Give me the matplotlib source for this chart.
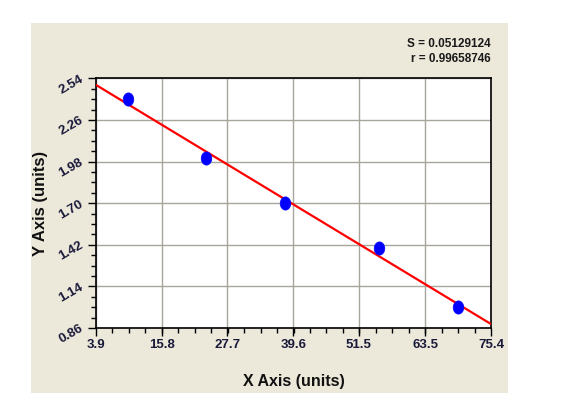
import numpy as np
import matplotlib
matplotlib.use("Agg")
import matplotlib.pyplot as plt
from matplotlib.patches import Rectangle
from matplotlib.path import Path

# values
x_pts = [9.71, 23.81, 38.2, 55.13, 69.36]
y_pts = [2.399, 2.002, 1.699, 1.398, 1.003]
x_ticks = [3.9, 15.8, 27.7, 39.6, 51.5, 63.5, 75.4]
y_ticks = [0.86, 1.14, 1.42, 1.70, 1.98, 2.26, 2.54]
x_labels = ["3.9", "15.8", "27.7", "39.6", "51.5", "63.5", "75.4"]
y_labels = ["0.86", "1.14", "1.42", "1.70", "1.98", "2.26", "2.54"]
stats_text = ["S = 0.05129124", "r = 0.99658746"]

plt.rcParams['font.family'] = ['Liberation Sans', 'DejaVu Sans']

W, H = 584, 394
fig = plt.figure(figsize=(W / 100, H / 100), dpi=100)
fig.patch.set_facecolor("white")

# beige panel behind the chart
fig.patches.append(Rectangle((31 / W, 1 - 393 / H), (508 - 31) / W, (393 - 23) / H,
                             transform=fig.transFigure, facecolor="#ece8da",
                             edgecolor="none", zorder=-5))

ax = fig.add_axes([96 / W, 1 - 328 / H, (491 - 96) / W, (328 - 78.3) / H])
ax.set_facecolor("white")

ax.set_xlim(x_ticks[0], x_ticks[-1])
ax.set_ylim(y_ticks[0], y_ticks[-1])

# minor ticks: 3 between every pair of major ticks
ax.set_xticks(x_ticks)
ax.set_xticks(np.linspace(x_ticks[0], x_ticks[-1], 25), minor=True)
ax.set_yticks(y_ticks)
ax.set_yticks(np.linspace(y_ticks[0], y_ticks[-1], 25), minor=True)
ax.set_xticklabels(x_labels, fontsize=9.5, fontweight="bold", color="#1a1a3a")
ax.set_yticklabels(y_labels, fontsize=9.5, fontweight="bold", color="#1a1a3a",
                   rotation=30, ha="right", va="center", rotation_mode="anchor")

ax.tick_params(which="major", direction="out", length=6, width=1, color="black", pad=2)
ax.tick_params(which="minor", direction="out", length=3.5, width=1, color="black")
ax.tick_params(axis="y", pad=4)

ax.grid(True, which="major", color="#a8a59c", lw=1)
ax.set_axisbelow(True)
for sp in ax.spines.values():
    sp.set_linewidth(1.2)
    sp.set_color("black")

# linear fit line
slope, icpt = np.polyfit(x_pts, y_pts, 1)
xx = np.array([x_ticks[0], x_ticks[-1]])
ax.plot(xx, slope * xx + icpt, color="#ff0000", lw=1.6, zorder=3)

# slightly tall elliptical dots
circ = Path.unit_circle()
oval = Path(circ.vertices * [0.8, 1.0], circ.codes)
ax.plot(x_pts, y_pts, linestyle="none", marker=oval, color="#0000ff", ms=9.5,
        mew=0.5, mec="#0000ff", zorder=4, clip_on=False)

ax.set_xlabel("X Axis (units)", fontsize=11.5, fontweight="bold", color="#111111")
ax.set_ylabel("Y Axis (units)", fontsize=12, fontweight="bold", color="#111111")
ax.xaxis.set_label_coords(0.5, (328 - 374) / 249.7)
ax.yaxis.set_label_coords((48 - 96) / 395, 0.5)

fig.text(491 / W, 1 - 44 / H, stats_text[0], ha="right", va="center",
         fontsize=8.5, fontweight="bold", color="#1a1a1a")
fig.text(491 / W, 1 - 59.5 / H, stats_text[1], ha="right", va="center",
         fontsize=8.5, fontweight="bold", color="#1a1a1a")

fig.savefig("out.png", dpi=100)
